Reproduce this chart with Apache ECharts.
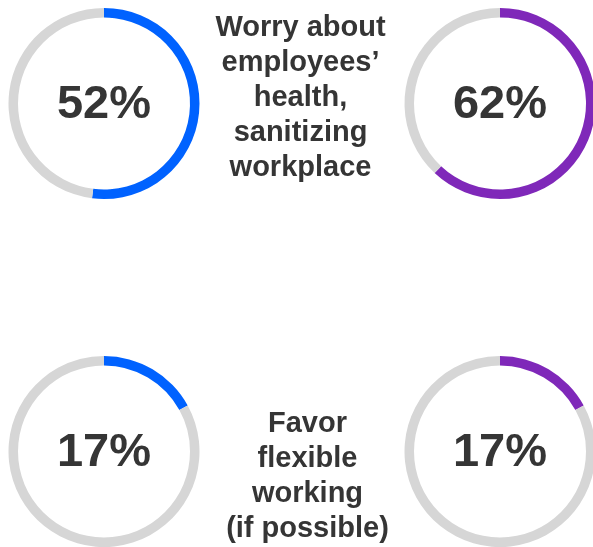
<!DOCTYPE html>
<html>
<head>
<meta charset="utf-8">
<script src="https://cdn.jsdelivr.net/npm/echarts@6/dist/echarts.min.js"></script>
<style>
html,body{margin:0;padding:0;background:#fff;}
#c{width:593px;height:547px;}
</style>
</head>
<body>
<div id="c"></div>
<script>
const percents = [52, 62, 17, 17];
const ringColors = ['#0062FF', '#7F28B9', '#0062FF', '#7F28B9'];
const topicLines = [
  ['Worry about', 'employees’', 'health,', 'sanitizing', 'workplace'],
  ['Favor', 'flexible', 'working', '(if possible)']
];

const centers = [[104, 103.5], [500, 103.5], [104, 451.5], [500, 451.5]];
const trackColor = '#D6D6D6';
const textColor = '#353535';

const chart = echarts.init(document.getElementById('c'), null, {renderer: 'canvas'});

const series = percents.map((p, i) => ({
  type: 'pie',
  center: centers[i],
  radius: [86, 95.5],
  startAngle: 90,
  clockwise: true,
  silent: true,
  avoidLabelOverlap: false,
  labelLine: {show: false},
  emphasis: {disabled: true},
  data: [
    {
      value: p,
      itemStyle: {color: ringColors[i]},
      label: {
        show: true,
        position: 'center',
        formatter: p + '%',
        fontFamily: 'Arial, "Liberation Sans", sans-serif',
        fontWeight: 'bold',
        fontSize: 47,
        color: textColor,
        offset: [0, 2]
      }
    },
    {
      value: 100 - p,
      itemStyle: {color: trackColor},
      label: {show: false}
    }
  ]
}));

chart.setOption({
  animation: false,
  backgroundColor: '#fff',
  series: series,
  graphic: [
    {
      type: 'text',
      x: 300.5,
      y: 98,
      style: {
        text: topicLines[0].join('\n'),
        font: 'bold 29px Arial, "Liberation Sans", sans-serif',
        fill: textColor,
        align: 'center',
        verticalAlign: 'middle',
        lineHeight: 35
      }
    },
    {
      type: 'text',
      x: 307.5,
      y: 476.5,
      style: {
        text: topicLines[1].join('\n'),
        font: 'bold 29px Arial, "Liberation Sans", sans-serif',
        fill: textColor,
        align: 'center',
        verticalAlign: 'middle',
        lineHeight: 35
      }
    }
  ]
});
</script>
</body>
</html>
